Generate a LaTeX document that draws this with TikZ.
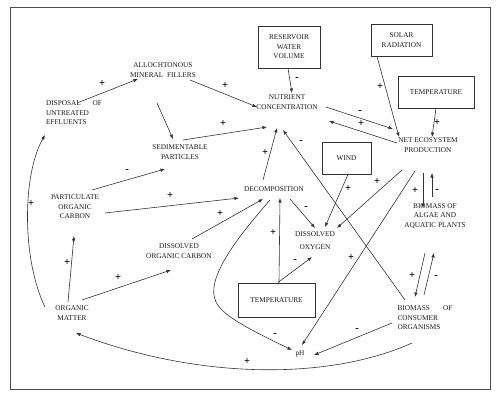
\documentclass[tikz,border=0pt]{standalone}
\usepackage{fontspec}
\setmainfont{Liberation Serif}
\usetikzlibrary{arrows.meta}

\begin{document}
\begin{tikzpicture}[x=1pt, y=-1pt, every node/.style={font=\fontsize{7.3}{9.5}\selectfont, text=black!90},
  txt/.style={align=center, inner sep=0pt},
  box/.style={draw=black!80, line width=0.9pt, align=center, inner sep=0pt},
  arr/.style={draw=black!80, line width=0.6pt, -{Latex[length=4.5pt,width=3.5pt]}},
  sgn/.style={font=\fontsize{10.5}{10.5}\selectfont\bfseries, text=black, inner sep=0pt}]
  \useasboundingbox (0,0) rectangle (496,400);
  \draw[black!70, line width=1pt] (10,7) rectangle (490,389);
  % variables
  \node[txt] (alloc) at (163,70) {ALLOCHTONOUS\\MINERAL~ FILLERS};
  \node[txt, text width=56pt, align=left] (disp) at (74,113) {DISPOSAL\hfill OF\\UNTREATED\\EFFLUENTS};
  \node[txt] (sedim) at (180,152) {SEDIMENTABLE\\PARTICLES};
  \node[txt] (poc) at (75,207) {PARTICULATE\\ORGANIC\\CARBON};
  \node[txt] (decomp) at (274,189) {DECOMPOSITION};
  \node[txt] (doc) at (179,251) {DISSOLVED\\ORGANIC CARBON};
  \node[txt] (orgm) at (72,313) {ORGANIC\\MATTER};
  \node[txt] (nutr) at (287,102) {NUTRIENT\\CONCENTRATION};
  \node[txt] (nec) at (428,145) {NET ECOSYSTEM\\PRODUCTION};
  \node[txt] (dox) at (315,241) {DISSOLVED\\[3.5pt]OXYGEN};
  \node[txt] (algae) at (435,216) {BIOMASS OF\\ALGAE AND\\AQUATIC PLANTS};
  \node[txt, text width=55pt, align=left] (consum) at (425,318) {BIOMASS\hfill OF\\CONSUMER\\ORGANISMS};
  \node[txt] (ph) at (300,354) {pH};
  % external factors
  \node[box, minimum width=62, minimum height=42] (resv) at (289,47) {RESERVOIR\\WATER\\VOLUME};
  \node[box, minimum width=61, minimum height=32] (solar) at (401.5,40) {SOLAR\\RADIATION};
  \node[box, minimum width=76, minimum height=32] (tempA) at (436,92) {TEMPERATURE};
  \node[box, minimum width=49, minimum height=32] (wind) at (346.5,158) {WIND};
  \node[box, minimum width=77, minimum height=34] (tempB) at (276.5,300) {TEMPERATURE};
  % links
  \draw[arr] ([shift={(3,-10)}]disp.center) -- ([shift={(-25,9)}]alloc.center);
  \node[sgn] (p1) at (102,84) {+};
  \draw[arr] ([shift={(27,10)}]alloc.center) -- ([shift={(-30,5)}]nutr.center);
  \node[sgn] (p2) at (225,86) {+};
  \draw[arr] ([shift={(-6,33)}]alloc.center) -- ([shift={(-7,-13)}]sedim.center);
  \draw[arr] ([shift={(3,-12)}]sedim.center) -- ([shift={(-20,25)}]nutr.center);
  \node[sgn] (p3) at (223,124) {+};
  \draw[arr] ([shift={(39,5)}]nutr.center) -- ([shift={(-35,-16)}]nec.center);
  \node[sgn] (m1) at (360,112) {-};
  \draw[arr] ([shift={(-31,-2)}]nec.center) -- ([shift={(42,19)}]nutr.center);
  \node[sgn] (p4) at (361,124) {+};
  \draw[arr] ([shift={(-1,0)}]resv.south) -- ([shift={(5,-9)}]nutr.center);
  \node[sgn] (m2) at (297,79) {-};
  \draw[arr] ([shift={(-24.5,0)}]solar.south) -- ([shift={(-29,-8)}]nec.center);
  \node[sgn] (p5) at (380,87) {+};
  \draw[arr] (tempA.south) -- ([shift={(4,-8)}]nec.center);
  \node[sgn] (p6) at (437,123) {+};
  \draw[arr] ([shift={(-11,-9)}]decomp.center) -- ([shift={(-10,26)}]nutr.center);
  \node[sgn] (p7) at (265,153) {+};
  \draw[arr] ([shift={(-20,-18)}]consum.center) -- ([shift={(-4,28)}]nutr.center);
  \node[sgn] (m3) at (301,142) {-};
  \draw[arr] ([shift={(1.5,0)}]wind.south) -- ([shift={(10,-14)}]dox.center);
  \node[sgn] (p8) at (348,189) {+};
  \draw[arr] ([shift={(-26,25)}]nec.center) -- ([shift={(22,-13)}]dox.center);
  \node[sgn] (p9) at (377,182) {+};
  \draw[arr] ([shift={(-13,26)}]nec.center) -- ([shift={(2,-9)}]ph.center);
  \node[sgn] (p10) at (351,258) {+};
  \draw[arr] ([shift={(-5,28)}]nec.center) -- ([shift={(-12,-8)}]algae.center);
  \node[sgn] (p11) at (415,191) {+};
  \draw[arr] ([shift={(-3,-19)}]algae.center) -- ([shift={(4,28)}]nec.center);
  \node[sgn] (m4) at (437,191) {-};
  \draw[arr] ([shift={(-10,37)}]algae.center) -- ([shift={(-10,-21)}]consum.center);
  \node[sgn] (p12) at (412,276) {+};
  \draw[arr] ([shift={(-1,-23)}]consum.center) -- ([shift={(-1,37)}]algae.center);
  \node[sgn] (m5) at (436,277) {-};
  \draw[arr] ([shift={(-33,5)}]consum.center) -- ([shift={(14,1)}]ph.center);
  \node[sgn] (m6) at (357,330) {-};
  \draw[arr] ([shift={(2.5,0)}]tempB.north) -- ([shift={(6,9)}]decomp.center);
  \node[sgn] (p13) at (273,233) {+};
  \draw[arr] ([shift={(1.5,0)}]tempB.north) -- ([shift={(-3,16)}]dox.center);
  \node[sgn] (m7) at (295,261) {-};
  \draw[arr] ([shift={(16,10)}]decomp.center) -- ([shift={(0,-13)}]dox.center);
  \node[sgn] (m8) at (306,208) {-};
  \draw[arr] ([shift={(17,-17)}]poc.center) -- ([shift={(-15,17)}]sedim.center);
  \node[sgn] (m9) at (127,171) {-};
  \draw[arr] ([shift={(30,6)}]poc.center) -- ([shift={(-35,9)}]decomp.center);
  \node[sgn] (p14) at (170,196) {+};
  \draw[arr] ([shift={(13,-12)}]doc.center) -- ([shift={(-11,10)}]decomp.center);
  \node[sgn] (p15) at (220,214) {+};
  \draw[arr] ([shift={(-4,-11)}]orgm.center) -- ([shift={(-1,29)}]poc.center);
  \node[sgn] (p16) at (67,263) {+};
  \draw[arr] ([shift={(10,-13)}]orgm.center) -- ([shift={(-8,19)}]doc.center);
  \node[sgn] (p17) at (118,278) {+};
  \draw[arr] ([shift={(-27,-6)}]orgm.center) .. controls (22,260) and (22,175) .. ([shift={(-29,22)}]disp.center);
  \node[sgn] (p18) at (31,204) {+};
  \draw[arr] ([shift={(-13,25)}]consum.center) .. controls (330,380) and (200,380) .. ([shift={(4,20)}]orgm.center);
  \node[sgn] (p19) at (247,362) {+};
  \draw[arr] ([shift={(-4,11)}]decomp.center) .. controls (235,240) and (205,280) .. (216,302)
    .. controls (222,314) and (240,325) .. ([shift={(-8,-4)}]ph.center);
  \node[sgn] (m10) at (275,335) {-};
\end{tikzpicture}
\end{document}
